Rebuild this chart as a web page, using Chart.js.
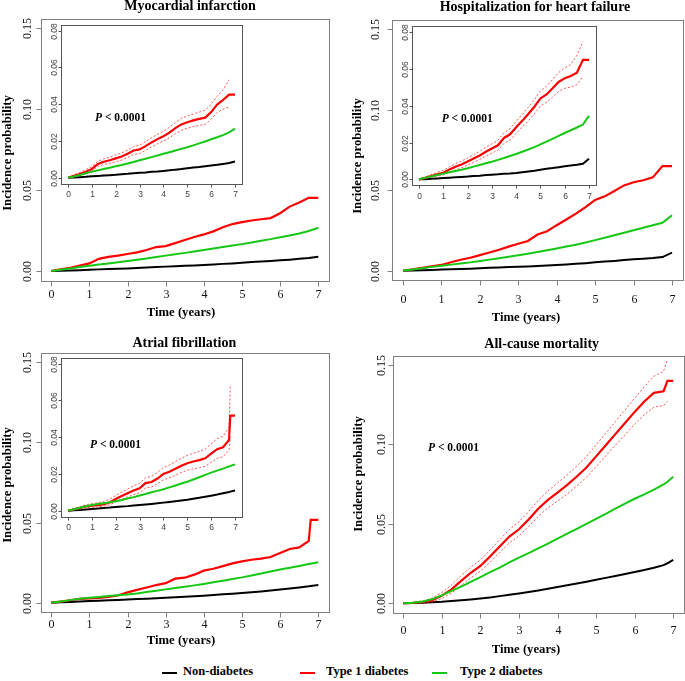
<!DOCTYPE html>
<html><head><meta charset="utf-8">
<script src="https://cdn.jsdelivr.net/npm/chart.js@4.4.1/dist/chart.umd.min.js"></script>
<style>
html,body{margin:0;padding:0;background:#fff;}
#wrap{position:relative;width:685px;height:681px;overflow:hidden;background:#fff;}
#wrap canvas{position:absolute;}
.lgline{position:absolute;height:2px;top:672px;}
.lgtext{position:absolute;top:664px;height:18px;line-height:18px;font:bold 12.5px "Liberation Serif","Times New Roman",serif;color:#000;white-space:nowrap;}
</style></head><body><div id="wrap"></div>
<script>
// ---------------- DATA ----------------
const tMI  = [0,0.25,0.5,0.75,1,1.25,1.5,1.75,2,2.25,2.5,2.75,3,3.25,3.5,3.75,4,4.25,4.5,4.75,5,5.25,5.5,5.75,6,6.25,6.5,6.75,7];
const tHF  = [0,0.25,0.5,0.75,1,1.25,1.5,1.75,2,2.25,2.5,2.75,3,3.25,3.5,3.75,4,4.25,4.5,4.75,5,5.25,5.5,5.75,6,6.25,6.5,6.75,7];
const tAF  = [0,0.25,0.5,0.75,1,1.25,1.5,1.75,2,2.25,2.5,2.75,3,3.25,3.5,3.75,4,4.25,4.5,4.75,5,5.25,5.5,5.75,6,6.25,6.5,6.75,6.8,7];
const tACM = [0,0.25,0.5,0.75,1,1.25,1.5,1.75,2,2.25,2.5,2.75,3,3.25,3.5,3.75,4,4.25,4.5,4.75,5,5.25,5.5,5.75,6,6.25,6.5,6.75,6.85,7];

// Myocardial infarction
const miNon  = [0,.0001,.0003,.0005,.0008,.001,.0012,.0014,.0016,.0019,.0021,.0024,.0027,.0029,.0032,.0034,.0037,.004,.0044,.0047,.0051,.0055,.0058,.0062,.0066,.007,.0075,.008,.0088];
const miT1   = [0,.001,.002,.0033,.0047,.0075,.0087,.0095,.0105,.0115,.013,.0148,.0154,.0172,.0192,.021,.0226,.0245,.027,.029,.0302,.0312,.032,.0327,.0357,.0398,.0423,.0452,.0452];
const miT1Hi = [0,.0016,.0029,.0044,.006,.009,.0103,.0112,.0124,.0135,.0151,.017,.0177,.0196,.0217,.0236,.0253,.0274,.0301,.0323,.0336,.0347,.0357,.0367,.0399,.0443,.0478,.0533,null];
const miT1Lo = [0,.0005,.0012,.0023,.0035,.0061,.0072,.0079,.0087,.0096,.011,.0127,.0132,.0149,.0168,.0185,.02,.0217,.024,.0258,.0269,.0278,.0285,.029,.0318,.0355,.0373,.0385,null];
const miT2   = [0,.0007,.0015,.0024,.0033,.004,.0047,.0054,.0062,.0069,.0077,.0086,.0095,.0103,.0112,.0121,.013,.0139,.0148,.0157,.0166,.0176,.0187,.0197,.0209,.022,.0232,.0247,.0267];

// Hospitalization for heart failure
const hfNon  = [0,.0001,.0003,.0005,.0007,.0009,.0011,.0013,.0015,.0018,.002,.0023,.0025,.0027,.003,.0032,.0035,.0039,.0043,.0047,.0052,.0057,.0061,.0066,.0071,.0075,.0079,.0085,.0112];
const hfT1   = [0,.0008,.0018,.0027,.0036,.0053,.0068,.0081,.0097,.0113,.013,.015,.0168,.0185,.0225,.0245,.0283,.0318,.0355,.0395,.044,.0462,.0495,.053,.055,.0562,.058,.065,.065];
const hfT1Hi = [0,.0012,.0026,.0038,.0049,.0068,.0085,.0099,.0116,.0134,.0152,.0174,.0193,.0212,.0254,.0276,.0316,.0353,.0392,.0434,.0481,.0506,.0543,.0581,.0605,.0625,.0675,.075,null];
const hfT1Lo = [0,.0004,.0011,.0017,.0024,.0039,.0051,.0063,.0078,.0092,.0108,.0126,.0143,.0158,.0196,.0214,.025,.0283,.0318,.0356,.0399,.0418,.0447,.0479,.0495,.0502,.0515,.056,null];
const hfT2   = [0,.0008,.0016,.0024,.0031,.0038,.0045,.0052,.006,.0069,.0078,.0087,.0096,.0106,.0116,.0127,.0138,.015,.0162,.0175,.019,.0205,.022,.0236,.0252,.0267,.0282,.0298,.0345];

// Atrial fibrillation
const afNon  = [0,.0002,.0004,.0007,.001,.0012,.0015,.0017,.002,.0023,.0025,.0028,.0031,.0034,.0037,.004,.0044,.0048,.0052,.0056,.006,.0065,.007,.0076,.0082,.0088,.0095,.0102,.0104,.011];
const afT1   = [0,.0007,.0015,.0024,.0027,.003,.0036,.0045,.0064,.008,.0095,.011,.0122,.015,.0156,.0175,.02,.0212,.0228,.0245,.0258,.0268,.0275,.0285,.031,.0335,.0345,.0385,.0517,.0517];
const afT1Hi = [0,.0012,.0022,.0033,.0038,.0043,.0051,.0062,.0083,.0101,.0118,.0135,.0149,.0179,.0187,.0208,.0235,.0249,.0267,.0286,.0301,.0313,.0322,.0335,.0363,.0392,.0405,.0455,.0677,null];
const afT1Lo = [0,.0003,.0009,.0016,.0019,.0021,.0025,.0032,.0048,.0062,.0075,.0088,.0098,.0124,.0129,.0146,.0168,.0179,.0193,.0208,.022,.0228,.0234,.0242,.0263,.0285,.0293,.033,.04,null];
const afT2   = [0,.0008,.0016,.0024,.0031,.0036,.0041,.0046,.0051,.0058,.0066,.0074,.0083,.0091,.01,.0108,.0117,.0127,.0137,.0148,.0158,.017,.0182,.0195,.0207,.0218,.0229,.0241,.0243,.0252];

// All-cause mortality
const acmNon  = [0,.0001,.0003,.0006,.0009,.0014,.0019,.0024,.003,.0037,.0045,.0053,.0062,.0071,.0081,.0091,.0102,.0113,.0124,.0136,.0148,.016,.0172,.0184,.0197,.021,.0224,.024,.0252,.0273];
const acmT1   = [0,.0003,.0008,.0019,.0048,.0088,.0141,.0192,.0235,.0295,.0358,.042,.0466,.0528,.0595,.0651,.0697,.0745,.0798,.0855,.0925,.0995,.1065,.1135,.1205,.127,.1325,.1335,.14,.14];
const acmT1Hi = [0,.0006,.0015,.0032,.0068,.0115,.0174,.0228,.0273,.0335,.04,.0465,.0513,.0578,.0648,.0707,.0757,.0808,.0864,.0924,.0997,.107,.1143,.1217,.1291,.1363,.143,.146,.1536,null];
const acmT1Lo = [0,.0001,.0002,.0008,.003,.0064,.0111,.016,.0201,.0259,.032,.038,.0424,.0483,.0547,.0601,.0643,.0688,.0739,.0793,.086,.0928,.0995,.1061,.1128,.1186,.1235,.1245,.127,null];
const acmT2   = [0,.0003,.0011,.0026,.005,.0078,.0105,.0135,.0165,.0196,.0225,.0257,.0287,.0316,.0346,.0376,.0407,.0438,.0469,.05,.0532,.0563,.0596,.0628,.0658,.0686,.0716,.0748,.0765,.0797];

// Ticks and labels
const xTicks = [0,1,2,3,4,5,6,7];
const xTickLabels = ['0','1','2','3','4','5','6','7'];
const mainYTicks = [0,0.05,0.10,0.15];
const mainYTickLabels = ['0.00','0.05','0.10','0.15'];
const insetYTicks = [0,0.02,0.04,0.06,0.08];
const insetYTickLabels = ['0.00','0.02','0.04','0.06','0.08'];
const panelTitles = ['Myocardial infarction','Hospitalization for heart failure','Atrial fibrillation','All-cause mortality'];
const xTitle = 'Time (years)';
const yTitle = 'Incidence probability';
const pLabel = ['P', ' < 0.0001'];
const legendLabels = ['Non-diabetes','Type 1 diabetes','Type 2 diabetes'];

// ---------------- STYLE ----------------
const SERIF = '"Liberation Serif","Times New Roman",serif';
const SANS = '"Liberation Sans",Arial,sans-serif';
const COL_NON = '#000000', COL_T1 = '#ff0000', COL_T2 = '#14c814', COL_CI = 'rgba(255,40,40,0.8)';

function pts(t, v){ return t.map((x,i)=>({x:x, y:v[i]})); }
function sets(t, non, t1, hi, lo, t2){
  return [
    {label:legendLabels[2], data:pts(t,t2), borderColor:COL_T2, borderWidth:2},
    {label:legendLabels[1], data:pts(t,t1), borderColor:COL_T1, borderWidth:2.2},
    {label:'upper', data:pts(t,hi), borderColor:COL_CI, borderWidth:1, borderDash:[2,2]},
    {label:'lower', data:pts(t,lo), borderColor:COL_CI, borderWidth:1, borderDash:[2,2]},
    {label:legendLabels[0], data:pts(t,non), borderColor:COL_NON, borderWidth:2}
  ];
}
function mainSets(t, non, t1, hi, lo, t2, withCI){
  const s = sets(t, non, t1, hi, lo, t2);
  return withCI ? s : [s[0], s[1], s[4]];
}

const decoPlugin = {
  id:'deco',
  afterDatasetsDraw(chart, args, o){
    const ctx = chart.ctx, a = chart.chartArea, sx = chart.scales.x, sy = chart.scales.y;
    ctx.save();
    const L = Math.round(a.left), T = Math.round(a.top), R = Math.round(a.right), B = Math.round(a.bottom);
    ctx.strokeStyle = o.boxColor; ctx.lineWidth = 1;
    ctx.strokeRect(L+0.5, T+0.5, R-L, B-T);
    ctx.strokeStyle = o.tickColor;
    ctx.fillStyle = o.labelColor; ctx.font = o.tickFont;
    ctx.textAlign = 'center'; ctx.textBaseline = 'middle';
    xTicks.forEach((v,i)=>{
      const px = Math.round(sx.getPixelForValue(v))+0.5;
      ctx.beginPath(); ctx.moveTo(px, B+0.5); ctx.lineTo(px, B+0.5+o.tl); ctx.stroke();
      ctx.fillText(xTickLabels[i], px, a.bottom + o.xLabelDist);
    });
    o.yTicks.forEach((v,i)=>{
      const py = Math.round(sy.getPixelForValue(v))+0.5;
      ctx.beginPath(); ctx.moveTo(L+0.5, py); ctx.lineTo(L+0.5-o.tl, py); ctx.stroke();
      ctx.save(); ctx.translate(a.left - o.yLabelDist, py); ctx.rotate(-Math.PI/2);
      ctx.fillText(o.yLabels[i], 0, 0); ctx.restore();
    });
    (o.texts||[]).forEach(t=>{
      ctx.save(); ctx.fillStyle = '#000'; ctx.font = t.font;
      ctx.textAlign = 'center'; ctx.textBaseline = 'middle';
      ctx.translate(t.x - o.ox, t.y - o.oy); if (t.rot) ctx.rotate(t.rot);
      ctx.fillText(t.text, 0, 0); ctx.restore();
    });
    if (o.p){
      ctx.fillStyle = '#000'; ctx.textAlign = 'left'; ctx.textBaseline = 'middle';
      const x0 = o.p.x - o.ox, y0 = o.p.y - o.oy;
      ctx.font = 'italic bold 11.5px ' + SERIF; ctx.fillText(pLabel[0], x0, y0);
      const w = ctx.measureText(pLabel[0]).width;
      ctx.font = 'bold 11.5px ' + SERIF; ctx.fillText(pLabel[1], x0 + w, y0);
    }
    ctx.restore();
  }
};

const wrap = document.getElementById('wrap');
function makeChart(s){
  const c = document.createElement('canvas');
  c.width = s.cw; c.height = s.ch;
  c.style.left = s.cx+'px'; c.style.top = s.cy+'px';
  c.style.width = s.cw+'px'; c.style.height = s.ch+'px';
  wrap.appendChild(c);
  const [L,T,R,B] = s.box;
  s.deco.ox = s.cx; s.deco.oy = s.cy;
  new Chart(c.getContext('2d'), {
    type:'line',
    data:{datasets:s.datasets},
    options:{
      responsive:false, animation:false, devicePixelRatio:1, events:[],
      layout:{padding:{left:L-s.cx, top:T-s.cy, right:s.cx+s.cw-R, bottom:s.cy+s.ch-B}},
      scales:{
        x:{type:'linear', display:false, min:-0.28, max:7.28},
        y:{type:'linear', display:false, min:s.yMin, max:s.yMax}
      },
      elements:{point:{radius:0}, line:{tension:0, fill:false}},
      plugins:{legend:{display:false}, tooltip:{enabled:false}, deco:s.deco}
    },
    plugins:[decoPlugin]
  });
}

const titleFont = 'bold 14px ' + SERIF;
const axFont = 'bold 12.7px ' + SERIF;
const mainTickFont = '12px ' + SERIF;
const insetTickFont = '8.5px ' + SANS;

function mainDeco(xd, yd, texts, p){
  return {boxColor:'#808080', tickColor:'#808080', labelColor:'#111', tickFont:mainTickFont, tl:5,
          xLabelDist:xd, yLabelDist:yd, yTicks:mainYTicks, yLabels:mainYTickLabels, texts:texts, p:p};
}
function insetDeco(p){
  return {boxColor:'#555', tickColor:'#555', labelColor:'#444', tickFont:insetTickFont, tl:3,
          xLabelDist:11.5, yLabelDist:6.6, yTicks:insetYTicks, yLabels:insetYTickLabels, texts:[], p:p};
}
const MY = [-0.006, 0.156], IY = [-0.0032, 0.0832];

// Panel 1
makeChart({cx:0, cy:0, cw:342, ch:330, box:[40.5,18.6,329,280.7], yMin:MY[0], yMax:MY[1],
  datasets:mainSets(tMI, miNon, miT1, miT1Hi, miT1Lo, miT2, false),
  deco:mainDeco(14.3, 12.2, [
    {text:panelTitles[0], x:190, y:6, font:titleFont},
    {text:xTitle, x:181, y:313, font:axFont},
    {text:yTitle, x:7.5, y:153, font:axFont, rot:-Math.PI/2}], null)});
// Panel 2
makeChart({cx:342, cy:0, cw:343, ch:330, box:[392.2,19.6,682.8,280.4], yMin:MY[0], yMax:MY[1],
  datasets:mainSets(tHF, hfNon, hfT1, hfT1Hi, hfT1Lo, hfT2, false),
  deco:mainDeco(19, 16.7, [
    {text:panelTitles[1], x:535, y:7, font:titleFont},
    {text:xTitle, x:526, y:318, font:axFont},
    {text:yTitle, x:357.5, y:156, font:axFont, rot:-Math.PI/2}], null)});
// Panel 3
makeChart({cx:0, cy:330, cw:342, ch:330, box:[40.5,352.7,329,612.3], yMin:MY[0], yMax:MY[1],
  datasets:mainSets(tAF, afNon, afT1, afT1Hi, afT1Lo, afT2, false),
  deco:mainDeco(12.7, 12.2, [
    {text:panelTitles[2], x:184.3, y:343, font:titleFont},
    {text:xTitle, x:181, y:641, font:axFont},
    {text:yTitle, x:7.5, y:485, font:axFont, rot:-Math.PI/2}], null)});
// Panel 4
makeChart({cx:342, cy:330, cw:343, ch:330, box:[392.5,355.5,684,612.8], yMin:MY[0], yMax:MY[1],
  datasets:mainSets(tACM, acmNon, acmT1, acmT1Hi, acmT1Lo, acmT2, true),
  deco:mainDeco(18, 10.8, [
    {text:panelTitles[3], x:541.7, y:344, font:titleFont},
    {text:xTitle, x:526, y:650, font:axFont},
    {text:yTitle, x:358.5, y:474, font:axFont, rot:-Math.PI/2}], {x:428, y:448})});

// Insets
makeChart({cx:46, cy:21, cw:200, ch:186, box:[61.3,24.8,241.7,183.6], yMin:IY[0], yMax:IY[1],
  datasets:sets(tMI, miNon, miT1, miT1Hi, miT1Lo, miT2), deco:insetDeco({x:95, y:118})});
makeChart({cx:398, cy:22, cw:202, ch:186, box:[412.2,26.4,595.8,185.2], yMin:IY[0], yMax:IY[1],
  datasets:sets(tHF, hfNon, hfT1, hfT1Hi, hfT1Lo, hfT2), deco:insetDeco({x:441.7, y:119})});
makeChart({cx:46, cy:354, cw:200, ch:186, box:[61.3,357.8,241.7,516.6], yMin:IY[0], yMax:IY[1],
  datasets:sets(tAF, afNon, afT1, afT1Hi, afT1Lo, afT2), deco:insetDeco({x:90, y:445})});

// Legend
const legendItems = [
  {color:COL_NON, lx:162, tx:183},
  {color:COL_T1, lx:300, tx:326},
  {color:COL_T2, lx:432, tx:460}
];
legendItems.forEach((it,i)=>{
  const l = document.createElement('div'); l.className='lgline';
  l.style.left = it.lx+'px'; l.style.width='15px'; l.style.background = it.color; wrap.appendChild(l);
  const t = document.createElement('div'); t.className='lgtext';
  t.style.left = it.tx+'px'; t.textContent = legendLabels[i]; wrap.appendChild(t);
});
</script></body></html>
